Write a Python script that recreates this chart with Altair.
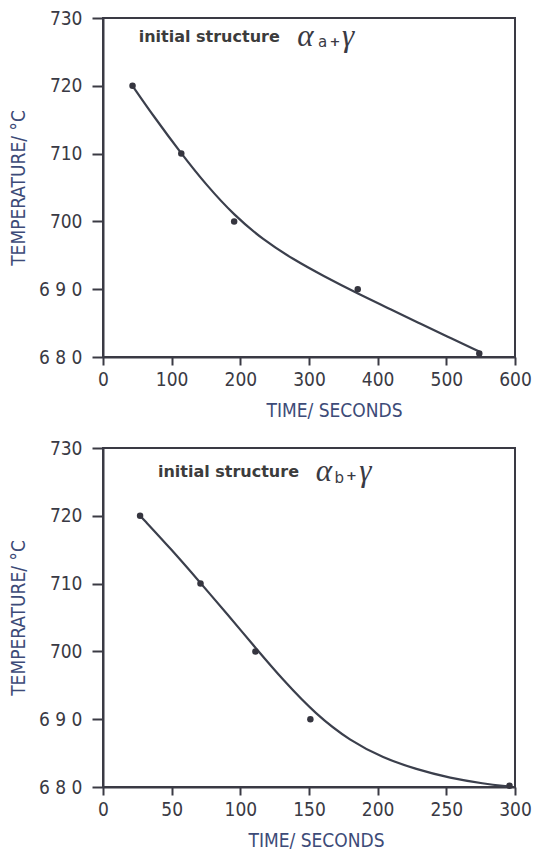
import altair as alt
import pandas as pd

# ---- data ----
top_time = [43, 114, 191, 371, 548]
top_temp = [720, 710, 700, 690, 680.5]
top_curve_time = [43, 73, 114, 151, 191, 233, 277, 320, 372, 420, 460, 500, 548]
top_curve_temp = [720, 715.6, 710.0, 705.3, 700.9, 697.3, 694.4, 692.0, 689.3, 687.0, 685.0, 683.1, 680.8]

bot_time = [27, 71, 111, 151, 296]
bot_temp = [720, 710, 700, 690, 680.2]
bot_curve_time = [28, 50, 71, 90, 112, 131, 155, 180, 204, 228, 253, 277, 296]
bot_curve_temp = [719.8, 715.0, 710.1, 705.6, 700.3, 695.8, 690.7, 686.8, 684.3, 682.6, 681.3, 680.5, 680.05]

y_ticks = [680, 690, 700, 710, 720, 730]
y_tick_labels = ["6 8 0", "6 9 0", "700", "710", "720", "730"]
top_x_ticks = [0, 100, 200, 300, 400, 500, 600]
bot_x_ticks = [0, 50, 100, 150, 200, 250, 300]

x_title = "TIME/ SECONDS"
y_title = "TEMPERATURE/ °C"

# annotation: (text, time, temperature, kind)
top_ann = [("initial structure", 52, 726.5, "label"),
           ("α", 283, 725.9, "greek"),
           ("a", 313, 725.7, "sub"),
           ("+", 330, 725.9, "plus"),
           ("γ", 348, 725.9, "greek")]
bot_ann = [("initial structure", 40, 725.7, "label"),
           ("α", 155, 725.2, "greek"),
           ("b", 168.5, 724.9, "sub"),
           ("+", 177, 725.3, "plus"),
           ("γ", 186.5, 725.2, "greek")]

LABEL_FONT = "DejaVu Sans Condensed, Liberation Sans Narrow, sans-serif"
INK = "#3a3a44"
TITLE_INK = "#3d4b78"

label_expr = " : ".join(
    [f"datum.value == {v} ? '{l}'" for v, l in zip(y_ticks, y_tick_labels)]
) + " : datum.label"

styles = {
    "label": dict(font="DejaVu Sans", fontSize=16, fontWeight="bold", color="#3c3c3c"),
    "greek": dict(font="Liberation Serif", fontSize=31, fontStyle="italic", color="#3a3a44"),
    "sub": dict(font="DejaVu Sans", fontSize=15, color="#3a3a44"),
    "plus": dict(font="DejaVu Sans", fontSize=13, fontWeight="bold", color="#3a3a44"),
}


def panel(pt_t, pt_T, cv_t, cv_T, xmax, xticks, ann, title_x):
    xs = alt.Scale(domain=[0, xmax], nice=False, zero=False)
    ys = alt.Scale(domain=[680, 730], nice=False, zero=False)
    xaxis = alt.Axis(values=xticks, title=x_title, grid=False,
                     tickSize=8, tickWidth=2, tickColor=INK,
                     domainColor=INK, domainWidth=2,
                     labelPadding=5, labelFont=LABEL_FONT, labelFontSize=19,
                     labelColor=INK, labelFlush=False,
                     titlePadding=12, titleFont=LABEL_FONT, titleFontSize=19,
                     titleFontWeight="normal", titleColor=TITLE_INK, titleX=title_x)
    yaxis = alt.Axis(values=y_ticks, labelExpr=label_expr, title=y_title, grid=False,
                     tickSize=11, tickWidth=2, tickColor=INK,
                     domainColor=INK, domainWidth=2,
                     labelPadding=10, labelFont=LABEL_FONT, labelFontSize=19,
                     labelColor=INK, labelFlush=False,
                     titlePadding=10, titleFont=LABEL_FONT, titleFontSize=19,
                     titleFontWeight="normal", titleColor=TITLE_INK)
    curve_df = pd.DataFrame({"t": cv_t, "T": cv_T})
    pts_df = pd.DataFrame({"t": pt_t, "T": pt_T})
    line = alt.Chart(curve_df).mark_line(
        interpolate="basis", color="#3b3f4c", strokeWidth=2.2
    ).encode(
        x=alt.X("t:Q", scale=xs, axis=xaxis),
        y=alt.Y("T:Q", scale=ys, axis=yaxis),
    )
    pts = alt.Chart(pts_df).mark_circle(size=42, opacity=1, color="#35353f").encode(
        x="t:Q", y="T:Q"
    )
    layers = [line, pts]
    for text, t, T, kind in ann:
        df = pd.DataFrame({"t": [t], "T": [T], "s": [text]})
        layers.append(
            alt.Chart(df).mark_text(align="left", baseline="alphabetic", **styles[kind]).encode(
                x="t:Q", y="T:Q", text="s:N"
            )
        )
    return alt.layer(*layers).properties(width=412, height=339)


top = panel(top_time, top_temp, top_curve_time, top_curve_temp, 600, top_x_ticks, top_ann, 231)
bot = panel(bot_time, bot_temp, bot_curve_time, bot_curve_temp, 300, bot_x_ticks, bot_ann, 213)

chart = alt.vconcat(top, bot, spacing=17).properties(
    padding={"top": 0, "left": 0, "right": 0, "bottom": 0},
    background="white",
).configure_view(stroke="#3a3a44", strokeWidth=2)

chart.save("out.html", embed_options={"renderer": "svg", "actions": False})
